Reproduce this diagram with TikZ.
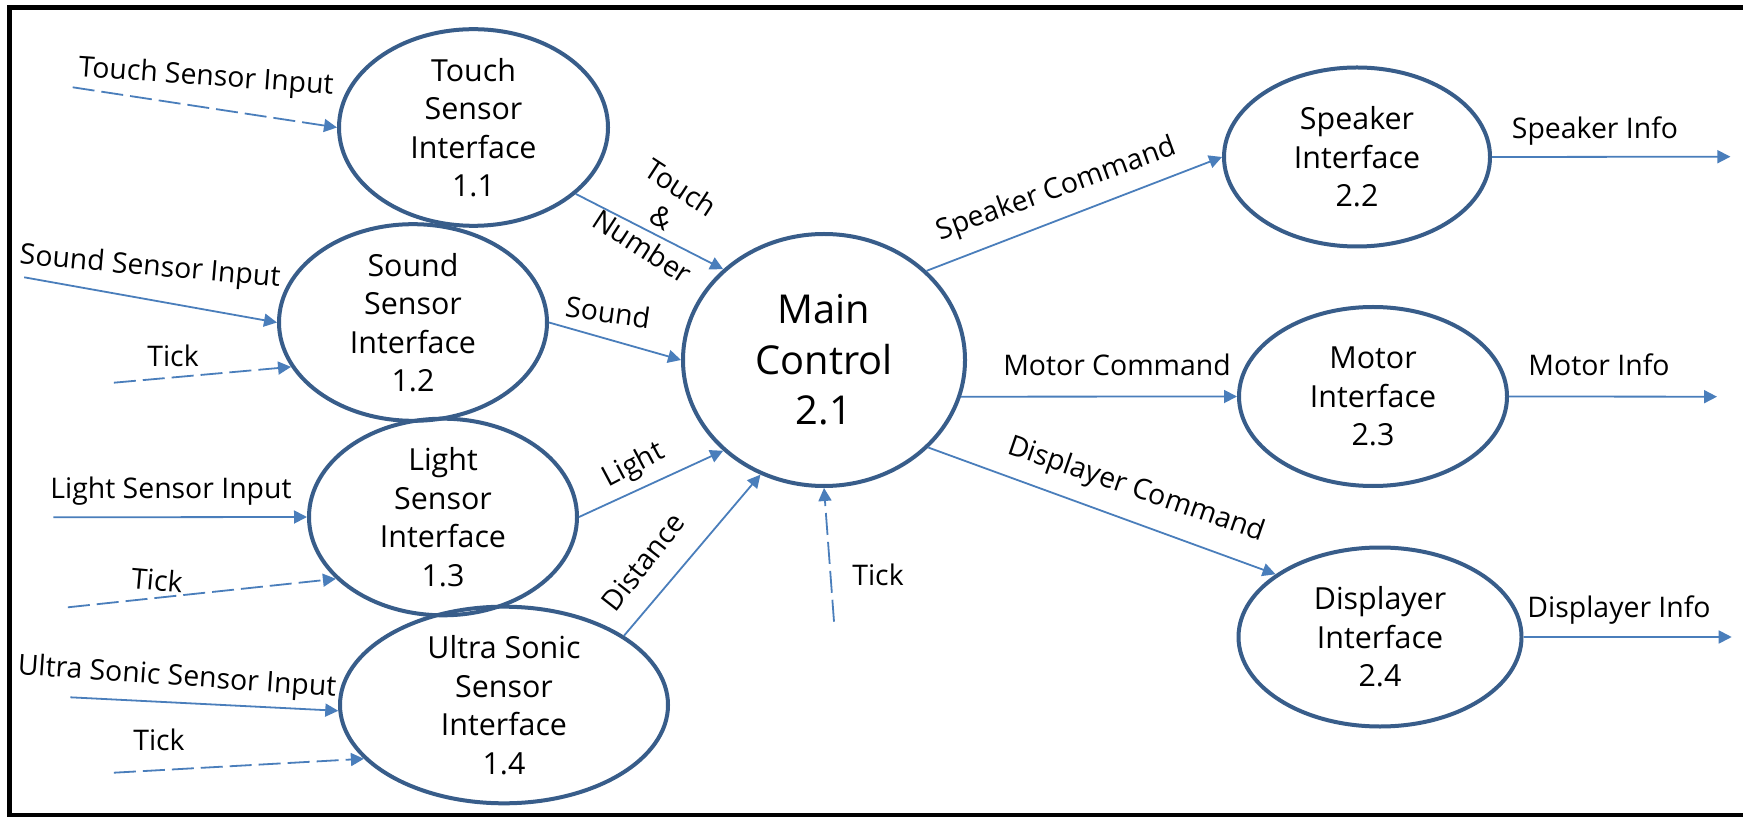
\documentclass[tikz,border=0pt]{standalone}
\usepackage{fontspec}
\setmainfont{Open Sans}
\usetikzlibrary{shapes.geometric,arrows.meta}
\definecolor{ringblue}{RGB}{56,93,138}
\definecolor{flowblue}{RGB}{74,126,187}

\begin{document}
\begin{tikzpicture}[x=0.5pt,y=-0.5pt,
  proc/.style={ellipse, draw=ringblue, line width=2pt, inner sep=0pt, align=center,
    font=\fontsize{15.2}{19.25}\selectfont},
  hub/.style={proc, font=\fontsize{19.9}{25.25}\selectfont},
  flow/.style={draw=flowblue, line width=0.9pt, -{Triangle[length=6.5pt,width=6.5pt]}},
  tickflow/.style={flow, dash pattern=on 11pt off 3.5pt},
  lbl/.style={font=\fontsize{14.2}{17.5}\selectfont, inner sep=0pt, align=center}]

\useasboundingbox (0,0) rectangle (1743,817);
\clip (0,0) rectangle (1743,817);
\fill[white] (0,0) rectangle (1743,817);
\draw[line width=2.5pt] (9,7.5) rectangle (1760,815);

% processes
\node[proc, minimum width=134.5pt, minimum height=88.5pt] (t11) at (473.5,127.5) {Touch\\Sensor\\Interface\\1.1};
\node[proc, minimum width=134pt, minimum height=90.5pt] (s12) at (413,322.5) {Sound\\Sensor\\Interface\\1.2};
\node[proc, minimum width=134pt, minimum height=89pt] (l13) at (443,517) {Light\\Sensor\\Interface\\1.3};
\node[proc, minimum width=164pt, minimum height=96pt] (u14) at (504,705) {Ultra Sonic\\Sensor\\Interface\\1.4};
\node[hub, minimum width=141pt, minimum height=126pt] (m21) at (824,360) {Main\\Control\\2.1};
\node[proc, minimum width=133pt, minimum height=89.5pt] (s22) at (1357,157) {Speaker\\Interface\\2.2};
\node[proc, minimum width=134pt, minimum height=89.5pt] (m23) at (1373,396.5) {Motor\\Interface\\2.3};
\node[proc, minimum width=141.5pt, minimum height=89.5pt] (d24) at (1380,637) {Displayer\\Interface\\2.4};

% free ends of external flows
\coordinate (inTouch) at (72.7,87.3);
\coordinate (inSound) at (24.2,277.3);
\coordinate (tkSound) at (113.9,382.7);
\coordinate (inLight) at (53.3,517.3);
\coordinate (tkLight) at (67.9,607.3);
\coordinate (inUltra) at (70.3,697.3);
\coordinate (tkUltra) at (113.9,772.7);
\coordinate (tkMain) at (834,621.7);
\coordinate (outSpk) at (1730.4,156.7);
\coordinate (outMot) at (1717,396.7);
\coordinate (outDsp) at (1731.7,637);

% flows
\draw[tickflow] (inTouch) -- (t11.west);
\draw[flow] (inSound) -- (s12.west);
\draw[tickflow] (tkSound) -- (s12.200);
\draw[flow] (inLight) -- (l13.west);
\draw[tickflow] (tkLight) -- (l13.210);
\draw[flow] (inUltra) -- (u14.182);
\draw[tickflow] (tkUltra) -- (u14.201);
\draw[flow] (t11.-33) -- (m21.138);
\draw[flow] (s12.east) -- (m21.west);
\draw[flow] (l13.east) -- (m21.222);
\draw[flow] (u14.30) -- (m21.241);
\draw[tickflow] (tkMain) -- (m21.south);
\draw[flow] (m21.41) -- (s22.west);
\draw[flow] (m21.-15) -- (m23.west);
\draw[flow] (m21.-40.5) -- (d24.149);
\draw[flow] (s22.east) -- (outSpk);
\draw[flow] (m23.east) -- (outMot);
\draw[flow] (d24.east) -- (outDsp);

% flow labels
\node[lbl, rotate=-4] (lTouchIn) at (206,78) {Touch Sensor Input};
\node[lbl, rotate=-5] (lSoundIn) at (150,268) {Sound Sensor Input};
\node[lbl] (lTickS) at (173,356) {Tick};
\node[lbl] (lLightIn) at (171,491) {Light Sensor Input};
\node[lbl, rotate=-5] (lTickL) at (157,580) {Tick};
\node[lbl, rotate=-4] (lUltraIn) at (177,678) {Ultra Sonic Sensor Input};
\node[lbl] (lTickU) at (159,740) {Tick};
\node[lbl, rotate=-33] (lTouch) at (662,217) {Touch\\\&\\Number};
\node[lbl, rotate=-8] (lSound) at (608,312) {Sound};
\node[lbl, rotate=28] (lLight) at (634,466) {Light};
\node[lbl, rotate=52] (lDist) at (643,562) {Distance};
\node[lbl] (lTickM) at (878,575) {Tick};
\node[lbl, rotate=20] (lSpkCmd) at (1057,190) {Speaker Command};
\node[lbl] (lMotCmd) at (1117,365) {Motor Command};
\node[lbl, rotate=-19] (lDspCmd) at (1136,490) {Displayer Command};
\node[lbl] (lSpkInfo) at (1595,131) {Speaker Info};
\node[lbl] (lMotInfo) at (1599,365) {Motor Info};
\node[lbl] (lDspInfo) at (1619,610) {Displayer Info};
\end{tikzpicture}
\end{document}
